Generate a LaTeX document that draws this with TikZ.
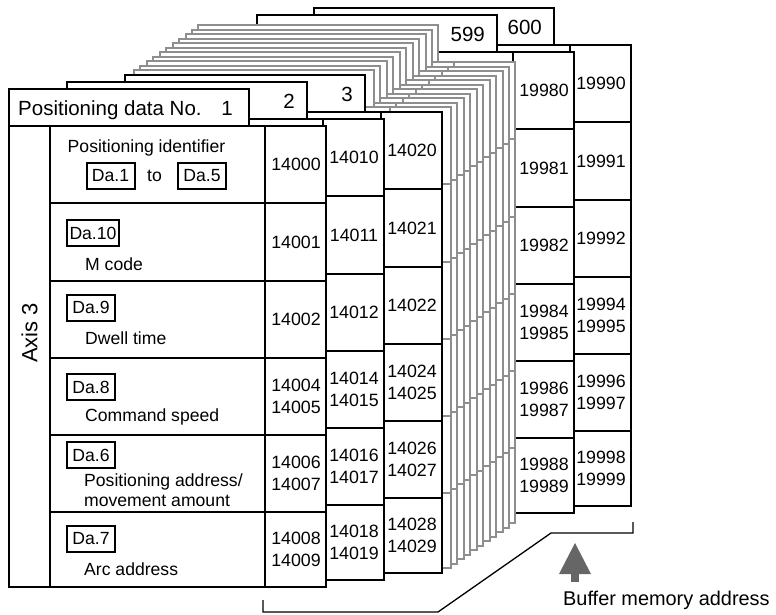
\documentclass[tikz,border=0pt]{standalone}
\usepackage{fontspec}
\setmainfont{Liberation Sans}
\usetikzlibrary{arrows.meta,positioning}

\definecolor{sheetgray}{HTML}{8E8E8E}
\definecolor{arrowgray}{HTML}{666666}

% one positioning data sheet: tab on top, body with axis, item and address columns
\newcommand\drawsheet[4][frontsheet]{%
  \begin{scope}[shift={({#3},{#4})}, #1]
    \node[headbox] (#2-head) at (0,0) {};
    \draw[fill=white] (0,37) rectangle (317,498);
    \draw (41,37) -- (41,498) (256,37) -- (256,498);
    \foreach \r in {114,192,269,346,423}
      \draw (41,\r) -- (317,\r);
    \coordinate (#2-num) at (228,26.5);
    \foreach \r [count=\i] in {75.5,153,230.5,307.5,384.5,460.5}
      \coordinate (#2-\i) at (287,\r);
  \end{scope}}

\begin{document}
\begin{tikzpicture}[x=1pt, y=-1pt,
    every node/.style={inner sep=0pt},
    frontsheet/.style={color=black, line width=2.5pt},
    graysheet/.style={color=sheetgray, line width=2pt},
    headbox/.style={draw, fill=white, anchor=north west,
        minimum width=240pt, minimum height=37pt, outer sep=0pt},
    headnum/.style={font=\fontsize{20.5}{24}\selectfont, anchor=base east},
    addr/.style={font=\fontsize{17.8}{21.5}\selectfont, align=center},
    desc/.style={font=\fontsize{17.6}{21}\selectfont, anchor=base west},
    dabox/.style={draw, line width=2pt, font=\fontsize{17.6}{21}\selectfont,
        minimum width=48pt, minimum height=26pt, inner xsep=2.5pt},
    brace/.style={line width=1.3pt},
    bigarrow/.style={draw=arrowgray, line width=8.5pt,
        -{Triangle[width=32pt,length=31pt,line width=0pt,fill=arrowgray]}}
]
\useasboundingbox (0,0) rectangle (776,615);

% last two sheets
\drawsheet{s600}{314}{8}
\node[headnum] (n600) at (s600-num) {600};
\foreach \val [count=\i] in {19990,19991,19992,{19994\\19995},{19996\\19997},{19998\\19999}}
  \node[addr] (s600-t\i) at (s600-\i) {\val};

\drawsheet{s599}{257}{15}
\node[headnum] (n599) at (s599-num) {599};
\foreach \val [count=\i] in {19980,19981,19982,{19984\\19985},{19986\\19987},{19988\\19989}}
  \node[addr] (s599-t\i) at (s599-\i) {\val};

% sheets in between, outline only
\foreach \k in {11,10,...,1}
  {\drawsheet[graysheet]{g\k}{134+6.44*(\k-1)}{70-4.47*(\k-1)}}

% first three sheets
\drawsheet{s3}{125}{75}
\node[headnum] (n3) at (s3-num) {3};
\foreach \val [count=\i] in {14020,14021,14022,{14024\\14025},{14026\\14027},{14028\\14029}}
  \node[addr] (s3-t\i) at (s3-\i) {\val};

\drawsheet{s2}{67}{82}
\node[headnum] (n2) at (s2-num) {2};
\foreach \val [count=\i] in {14010,14011,14012,{14014\\14015},{14016\\14017},{14018\\14019}}
  \node[addr] (s2-t\i) at (s2-\i) {\val};

\drawsheet{s1}{9}{89}
\node[headnum, anchor=base west] (title) at (18,116) {Positioning data No.};
\node[headnum, xshift=-4pt] (n1) at (s1-num) {1};
\foreach \val [count=\i] in {14000,14001,14002,{14004\\14005},{14006\\14007},{14008\\14009}}
  \node[addr] (s1-t\i) at (s1-\i) {\val};

% items of sheet 1
\node[font=\fontsize{22}{24}\selectfont, rotate=90] (axis) at (29.5,333) {Axis 3};

\node[desc, anchor=base] (posid) at (146.5,153) {Positioning identifier};
\node[dabox] (da1) at (110.5,176) {Da.1};
\node[desc, right=11.5pt of da1] (to) {to};
\node[dabox, right=15pt of to] (da5) {Da.5};

\node[dabox, anchor=west] (da10) at (66,233) {Da.10};
\node[desc] (mcode) at (85,270) {M code};

\node[dabox, anchor=west] (da9) at (66,307.5) {Da.9};
\node[desc] (dwell) at (85,344) {Dwell time};

\node[dabox, anchor=west] (da8) at (66,387) {Da.8};
\node[desc] (cmdspeed) at (85,421) {Command speed};

\node[dabox, anchor=west] (da6) at (66,455) {Da.6};
\node[desc] (posaddr) at (84,486) {Positioning address/};
\node[desc] (moveamt) at (84,506.5) {movement amount};

\node[dabox, anchor=west] (da7) at (66,538.5) {Da.7};
\node[desc] (arcaddr) at (84,575) {Arc address};

% buffer memory bracket
\draw[brace] (263,600) -- (263,612) -- (438,612) -- (551,533) -- (633,533) -- (633,522);

\node[headnum, font=\fontsize{19.9}{24}\selectfont, anchor=base west] (bufaddr) at (563,605) {Buffer memory address};
\coordinate (arrbase) at (575,582);
\coordinate (arrtip) at (575,543);
\draw[bigarrow] (arrbase) -- (arrtip);

\end{tikzpicture}
\end{document}
